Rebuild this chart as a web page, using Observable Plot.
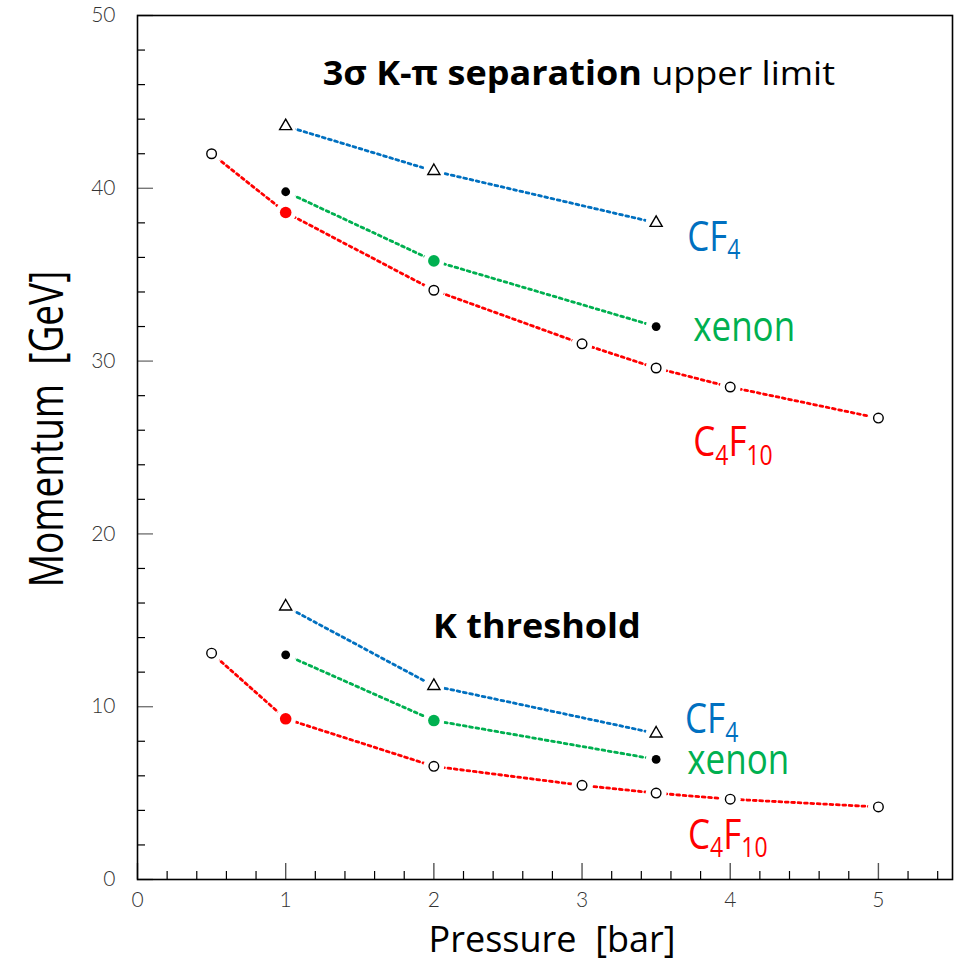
<!DOCTYPE html>
<html>
<head>
<meta charset="utf-8">
<script src="https://cdn.jsdelivr.net/npm/d3@7"></script>
<script src="https://cdn.jsdelivr.net/npm/@observablehq/plot@0.6"></script>
<style>
  html, body { margin: 0; padding: 0; background: #fff; }
  svg { display: block; }
</style>
</head>
<body>
<div id="chart"></div>
<script>
// ---- data ----
const pressuresC4F10 = [0.5, 1, 2, 3, 3.5, 4, 5];
const pressuresCF4 = [1, 2, 3.5];
const pressuresXenon = [1, 2, 3.5];

// 3 sigma K-pi separation upper limit [GeV]
const sepLimitC4F10 = [42.0, 38.6, 34.1, 31.0, 29.6, 28.5, 26.7];
const sepLimitCF4 = [43.6, 41.0, 38.0];
const sepLimitXenon = [39.8, 35.8, 32.0];

// K threshold [GeV]
const kThresholdC4F10 = [13.1, 9.3, 6.55, 5.45, 5.0, 4.65, 4.2];
const kThresholdCF4 = [15.8, 11.2, 8.45];
const kThresholdXenon = [13.0, 9.2, 6.95];

// pressure at which a gas' marker is drawn filled in its own colour
const colouredPointPressure = { C4F10: 1, xenon: 2 };

const gasColors = { CF4: "#0070C0", xenon: "#00B050", C4F10: "#FF0000" };

const xTickValues = [0, 1, 2, 3, 4, 5];
const yTickValues = [0, 10, 20, 30, 40, 50];

// annotations
const gasLabels = [
  { gas: "CF4",   text: "CF_4",    p: 3.71, m: 36.4 },
  { gas: "xenon", text: "xenon",   p: 3.75, m: 31.15 },
  { gas: "C4F10", text: "C_4F_10", p: 3.75, m: 24.5 },
  { gas: "CF4",   text: "CF_4",    p: 3.695, m: 8.45 },
  { gas: "xenon", text: "xenon",   p: 3.71, m: 6.13 },
  { gas: "C4F10", text: "C_4F_10", p: 3.715, m: 1.79 }
];
const headings = [
  { bold: "3σ K-π separation", rest: " upper limit", p: 1.25, m: 45.95 },
  { bold: "K threshold", rest: "", p: 1.995, m: 13.95 }
];

// ---- build table ----
const rows = [];
function addSeries(gas, band, ps, ms) {
  ps.forEach((p, i) => rows.push({ gas, band, key: gas + "-" + band, p, m: ms[i] }));
}
addSeries("CF4", "sep", pressuresCF4, sepLimitCF4);
addSeries("xenon", "sep", pressuresXenon, sepLimitXenon);
addSeries("C4F10", "sep", pressuresC4F10, sepLimitC4F10);
addSeries("CF4", "thr", pressuresCF4, kThresholdCF4);
addSeries("xenon", "thr", pressuresXenon, kThresholdXenon);
addSeries("C4F10", "thr", pressuresC4F10, kThresholdC4F10);

const isColoured = d => colouredPointPressure[d.gas] === d.p;

const minorX = d3.range(0, 28).filter(i => i % 5 !== 0).map(i => i / 5);
const minorY = d3.range(0, 51, 2).filter(v => v % 10 !== 0);

const lineMarks = Object.keys(gasColors).map(gas =>
  Plot.line(rows.filter(d => d.gas === gas), {
    x: "p", y: "m", z: "key",
    stroke: gasColors[gas], strokeWidth: 2.8, strokeDasharray: "2.8 3.6"
  })
);

const svg = Plot.plot({
  width: 959,
  height: 967,
  marginLeft: 137,
  marginRight: 7,
  marginTop: 15,
  marginBottom: 88,
  x: { domain: [0, 5.5], label: null },
  y: { domain: [0, 50], label: null },
  style: { background: "#fff", fontFamily: "Lato", fontSize: "21px", fontWeight: 300, color: "#000" },
  marks: [
    ...lineMarks,
    // white halo so the dotted lines stop short of each marker
    Plot.dot(rows, { x: "p", y: "m", r: 10.5, fill: "white" }),
    // C4F10: open circles
    Plot.dot(rows.filter(d => d.gas === "C4F10" && !isColoured(d)), {
      x: "p", y: "m", r: 4.8, fill: "white", stroke: "black", strokeWidth: 1.4
    }),
    // CF4: open triangles
    Plot.dot(rows.filter(d => d.gas === "CF4"), {
      x: "p", y: "m", r: 4.5, symbol: "triangle", fill: "white", stroke: "black", strokeWidth: 1.4
    }),
    // xenon: black filled
    Plot.dot(rows.filter(d => d.gas === "xenon" && !isColoured(d)), {
      x: "p", y: "m", r: 4.4, fill: "black"
    }),
    // coloured filled markers
    Plot.dot(rows.filter(isColoured), {
      x: "p", y: "m", r: 5.8, fill: d => gasColors[d.gas]
    }),
    // gas labels
    Plot.text(gasLabels, {
      x: "p", y: "m", text: "text", fill: d => gasColors[d.gas],
      textAnchor: "start", lineAnchor: "bottom",
      fontFamily: "Open Sans", fontSize: 35, fontWeight: 400,
      ariaDescription: "gas labels"
    }),
    // headings
    Plot.text(headings, {
      x: "p", y: "m", text: d => d.bold + d.rest, fill: "black",
      textAnchor: "start", lineAnchor: "bottom",
      fontFamily: "Open Sans", fontSize: 36, fontWeight: 400,
      ariaDescription: "headings"
    }),
    // axes: labels
    Plot.axisX(xTickValues, { tickSize: 0, tickPadding: 13, label: null, fill: "#333", tickFormat: d => String(d) }),
    Plot.axisY(yTickValues, { tickSize: 0, tickPadding: 22, label: null, fill: "#333", tickFormat: d => String(d) }),
    // axes: inward major ticks
    Plot.axisX(xTickValues, { tickSize: -16, fill: "none", label: null, stroke: "#555", strokeWidth: 1.4 }),
    Plot.axisY(yTickValues, { tickSize: -16, fill: "none", label: null, stroke: "#777", strokeWidth: 1.4 }),
    // axes: inward minor ticks
    Plot.axisX(minorX, { tickSize: -8, fill: "none", label: null, stroke: "black", strokeWidth: 1.2 }),
    Plot.axisY(minorY, { tickSize: -8, fill: "none", label: null, stroke: "black", strokeWidth: 1.2 }),
    Plot.frame({ stroke: "black", strokeWidth: 1.6 })
  ]
});

const root = d3.select(svg);

// subscripts in gas labels + vertical stretch like the reference
root.selectAll('g[aria-description="gas labels"] text').each(function () {
  const parts = this.textContent.split(/_(\d+)/);
  const el = d3.select(this).text(null);
  let down = false;
  parts.forEach((s, i) => {
    if (!s) return;
    const ts = el.append("tspan").text(s);
    if (i % 2 === 1) {
      ts.attr("font-size", 23);
      if (!down) { ts.attr("dy", 7); down = true; }
    } else if (down) {
      ts.attr("dy", -7); down = false;
    }
  });
  el.attr("transform", (el.attr("transform") || "") + " scale(1,1.2)");
});

// bold part of headings
root.selectAll('g[aria-description="headings"] text').each(function (i) {
  const h = headings[i];
  const el = d3.select(this).text(null);
  el.append("tspan").attr("font-weight", 700).text(h.bold);
  if (h.rest) el.append("tspan").attr("font-weight", 400).text(h.rest);
  el.attr("transform", (el.attr("transform") || "") + " scale(1,0.92)");
});

// axis titles
root.append("text")
  .attr("x", 552).attr("y", 952)
  .attr("text-anchor", "middle")
  .attr("font-family", "Open Sans").attr("font-size", 36).attr("font-weight", 400)
  .attr("fill", "black")
  .style("white-space", "pre")
  .text("Pressure  [bar]");

root.append("text")
  .attr("transform", "translate(63,429) rotate(-90) scale(1,1.3)")
  .attr("text-anchor", "middle")
  .attr("font-family", "Open Sans").attr("font-size", 37).attr("font-weight", 400)
  .attr("fill", "black")
  .style("white-space", "pre")
  .text("Momentum  [GeV]");

document.getElementById("chart").appendChild(svg);
</script>
</body>
</html>
